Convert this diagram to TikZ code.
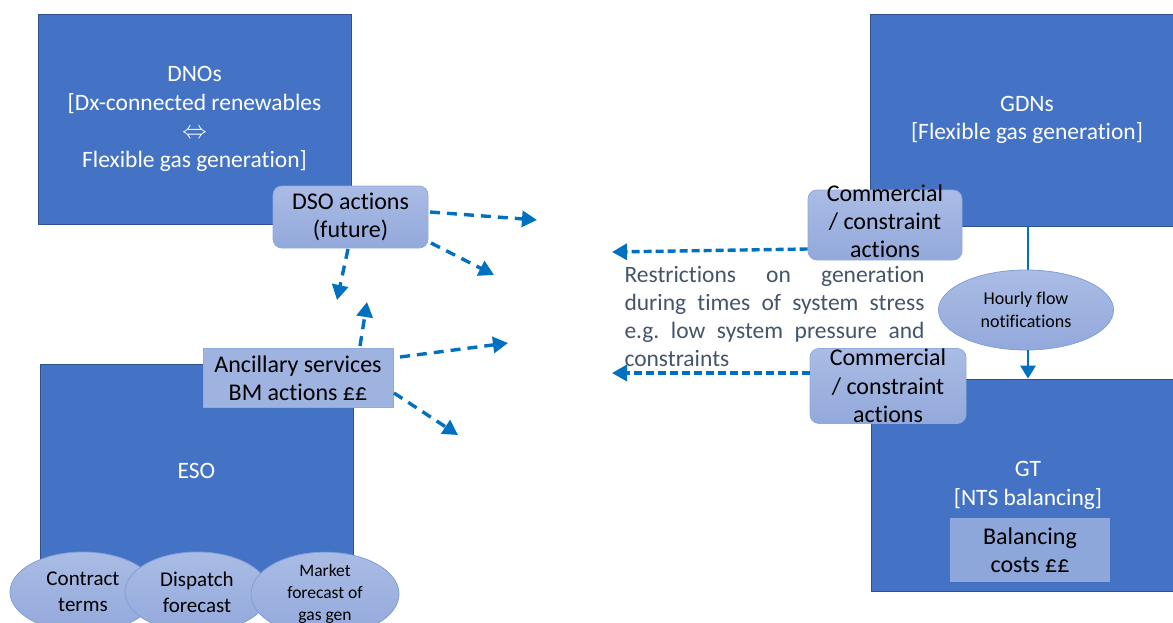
\documentclass[tikz,border=0pt]{standalone}
\usepackage{fontspec}
\setmainfont{Carlito}[Ligatures=NoCommon]
\usetikzlibrary{shapes.geometric,arrows.meta}
\definecolor{boxblue}{HTML}{4472C4}
\definecolor{boxedge}{HTML}{2F528F}
\definecolor{lighttop}{HTML}{AABCE5}
\definecolor{lightbot}{HTML}{93A9DB}
\definecolor{lightfill}{HTML}{9FB3E0}
\definecolor{lightedge}{HTML}{8FAADC}
\definecolor{balfill}{HTML}{8EA7DB}
\definecolor{arrowblue}{HTML}{0070C0}
\definecolor{paratext}{HTML}{44546A}
\tikzset{
  bigbox/.style={draw=boxedge, line width=0.8pt, fill=boxblue, text=white, inner sep=0pt, align=center, font=\fontsize{23.5}{28.5}\selectfont},
  actbox/.style={draw=lightedge, line width=0.8pt, top color=lighttop, bottom color=lightbot, text=black, inner sep=0pt, align=center, rounded corners=9pt, font=\fontsize{24}{28.5}\selectfont},
  sqbox/.style={draw=lightedge, line width=0.8pt, fill=lightfill, text=black, inner sep=0pt, align=center, font=\fontsize{24}{28}\selectfont},
  ovalbox/.style={ellipse, draw=lightedge!80!boxblue, line width=0.8pt, top color=lighttop, bottom color=lightbot, text=black, inner sep=0pt, align=center},
  dasharrow/.style={draw=arrowblue, line width=3.4pt, dash pattern=on 10pt off 7pt, -{Triangle[length=15pt,width=16pt]}},
  finedash/.style={dasharrow, dash pattern=on 8pt off 4pt},
  solidarrow/.style={draw=arrowblue, line width=2.8pt},
}
\begin{document}
\begin{tikzpicture}[x=1pt,y=-1pt]
\frenchspacing
\useasboundingbox (0,0) rectangle (1173,623);
% left top
\node[bigbox, minimum width=313pt, minimum height=210pt] (dno) at (194.5,119)
  {DNOs\\{[}Dx-connected renewables\\$\Leftrightarrow$\\Flexible gas generation{]}};
\node[actbox, minimum width=155pt, minimum height=62pt] (dso) at (350.5,217) {DSO actions\\(future)};
% left bottom
\node[bigbox, minimum width=313pt, minimum height=214pt] (eso) at (196.5,471) {ESO};
\node[sqbox, minimum width=190pt, minimum height=59pt] (anc) at (298,378) {Ancillary services\\BM actions ££};
\node[ovalbox, minimum width=146pt, minimum height=80pt, font=\fontsize{21}{26}\selectfont] (contract) at (83,592) {Contract\\terms};
\node[ovalbox, minimum width=144pt, minimum height=80pt, font=\fontsize{21}{26}\selectfont] (dispatch) at (197,592) {Dispatch\\forecast};
\node[ovalbox, minimum width=148pt, minimum height=80pt, font=\fontsize{17.5}{22}\selectfont] (market) at (325,594) {Market\\forecast of\\gas gen};
% right
\node[bigbox, minimum width=314pt, minimum height=212pt] (gdn) at (1027,120) {GDNs\\{[}Flexible gas generation{]}};
\node[bigbox, minimum width=314pt, minimum height=212pt] (gt) at (1028,485) {};
\node[text=white, align=center, inner sep=0pt, font=\fontsize{23.5}{29}\selectfont] (gttext) at (1028,485.5) {GT\\{[}NTS balancing{]}};
\node[draw=none, fill=balfill, text=black, inner sep=0pt, align=center, minimum width=160pt, minimum height=64pt, font=\fontsize{24}{28}\selectfont] (bal) at (1030,550) {Balancing\\costs ££};
\coordinate (vline) at (1028,0);
\draw[solidarrow] (gdn.south -| vline) -- (1028,300);
\node[ovalbox, minimum width=175pt, minimum height=80pt, font=\fontsize{18}{23}\selectfont] (hourly) at (1026,310) {Hourly flow\\notifications};
\draw[solidarrow, -{Triangle[length=13pt,width=15pt]}] (hourly.south -| vline) -- (gt.north -| vline);
\node[actbox, minimum width=154pt, minimum height=70pt] (comtop) at (885,225) {};
\node[align=center, inner sep=0pt, font=\fontsize{24}{28}\selectfont] (comtoptext) at (885,221) {Commercial\\/ constraint\\actions};
\node[actbox, minimum width=156pt, minimum height=75pt] (combot) at (888,386) {Commercial\\/ constraint\\actions};
% paragraph
\node[text=paratext, text width=300pt, align=justify, inner sep=0pt, font=\fontsize{23.5}{28}\selectfont] (para) at (774.5,316.5)
  {\hyphenpenalty=10000 Restrictions on generation\linebreak during times of system stress\linebreak e.g. low system pressure and\linebreak constraints};
% free ends
\coordinate (e1) at (537,220);
\coordinate (e2) at (494,275);
\coordinate (e3) at (337,300);
\coordinate (e4) at (367,302);
\coordinate (e5) at (508,343);
\coordinate (e6) at (458,435);
\coordinate (e7) at (612,252);
\coordinate (e8) at (612,373);
\coordinate (s1) at (430,212);
\coordinate (s2) at (431,243);
\coordinate (s3) at (348,249);
\coordinate (s4) at (360,346);
\coordinate (s5) at (400,357);
\coordinate (s6) at (394,393);
\draw[dasharrow] (s1) -- (e1);
\draw[dasharrow] (s2) -- (e2);
\draw[dasharrow] (s3) -- (e3);
\draw[dasharrow] (s4) -- (e4);
\draw[dasharrow] (s5) -- (e5);
\draw[dasharrow] (s6) -- (e6);
\draw[finedash] (comtop.west |- 0,249) -- (e7);
\draw[finedash] (combot.west |- e8) -- (e8);
\end{tikzpicture}
\end{document}
